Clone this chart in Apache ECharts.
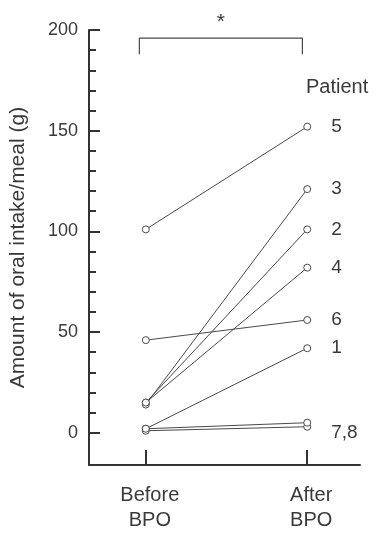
<!DOCTYPE html>
<html>
<head>
<meta charset="utf-8">
<style>html,body{margin:0;padding:0;background:#fff;}#c{width:380px;height:533px;}</style>
<script src="https://cdn.jsdelivr.net/npm/echarts@6/dist/echarts.min.js"></script>
</head>
<body>
<div id="c"></div>
<script>
const categories = ['Before\nBPO', 'After\nBPO'];
const patients = ['1', '2', '3', '4', '5', '6', '7', '8'];
const before = [2, 15, 14, 15, 101, 46, 1, 2];
const after = [42, 101, 121, 82, 152, 56, 3, 5];
const endLabels = ['1', '2', '3', '4', '5', '6', '7,8', ''];
const majorTicks = [0, 50, 100, 150, 200];
const minorTicks = [10, 20, 30, 40, 60, 70, 80, 90, 110, 120, 130, 140, 160, 170, 180, 190];
const bracket = [[-0.04, 188], [-0.04, 196], [0.97, 196], [0.97, 188]];
const significance = '*';

const FONT = 'Liberation Sans';
const LINE = '#4a4a4a';
const TEXT = '#3a3a3a';

const chart = echarts.init(document.getElementById('c'));

const series = patients.map((p, i) => ({
  name: 'Patient ' + p,
  type: 'line',
  data: [[0, before[i]], [1, after[i]]],
  symbol: 'circle',
  symbolSize: 7,
  showSymbol: true,
  lineStyle: { color: LINE, width: 1 },
  itemStyle: { color: '#fff', borderColor: LINE, borderWidth: 1 },
  emphasis: { disabled: true },
  label: {
    show: true,
    position: 'right',
    distance: 20,
    offset: endLabels[i] === '7,8' ? [0, 6] : [0, 0],
    fontFamily: FONT,
    fontSize: 19,
    color: TEXT,
    formatter: (prm) => prm.dataIndex === 1 ? endLabels[i] : ''
  },
  z: 3
}));

series.push({
  name: 'bracket',
  type: 'line',
  data: bracket,
  symbol: 'none',
  clip: false,
  lineStyle: { color: LINE, width: 1.2 },
  emphasis: { disabled: true },
  markPoint: {
    symbol: 'circle',
    symbolSize: 0,
    data: [{ coord: [(bracket[1][0] + bracket[2][0]) / 2, bracket[1][1]] }],
    label: {
      show: true,
      formatter: significance,
      fontFamily: FONT,
      fontSize: 21,
      color: TEXT,
      offset: [0, -16]
    }
  }
});

chart.setOption({
  animation: false,
  backgroundColor: '#fff',
  grid: { left: 88, right: 20, top: 30, bottom: 61 },
  xAxis: {
    type: 'value',
    min: -0.352,
    max: 1.327,
    axisLine: { show: true, onZero: false, lineStyle: { color: '#333', width: 2 } },
    axisTick: { show: true, inside: true, length: 15, customValues: [0, 1], lineStyle: { color: '#333', width: 2 } },
    axisLabel: {
      customValues: [0, 1],
      formatter: (v) => categories[Math.round(v)],
      fontFamily: FONT,
      fontSize: 20,
      lineHeight: 25,
      color: TEXT,
      margin: 18,
      padding: [0, 0, 0, 8]
    },
    splitLine: { show: false }
  },
  yAxis: [{
    type: 'value',
    min: -16,
    max: 200,
    name: 'Amount of oral intake/meal (g)',
    nameLocation: 'middle',
    nameGap: 60,
    nameTextStyle: { fontFamily: FONT, fontSize: 21, color: TEXT },
    axisLine: { show: true, onZero: false, lineStyle: { color: '#333', width: 2 } },
    axisTick: { show: true, inside: true, length: 11, customValues: majorTicks, lineStyle: { color: '#333', width: 2 } },
    axisLabel: { customValues: majorTicks, fontFamily: FONT, fontSize: 18, color: TEXT, margin: 11 },
    splitLine: { show: false }
  }, {
    type: 'value',
    min: -16,
    max: 200,
    position: 'left',
    axisLine: { show: false, onZero: false },
    axisTick: { show: true, inside: true, length: 7, customValues: minorTicks, lineStyle: { color: '#333', width: 2 } },
    axisLabel: { show: false },
    splitLine: { show: false }
  }],
  graphic: [{
    type: 'text',
    left: 306,
    top: 77,
    style: { text: 'Patient', fontFamily: FONT, fontSize: 20, fill: TEXT }
  }],
  series: series
});
</script>
</body>
</html>
